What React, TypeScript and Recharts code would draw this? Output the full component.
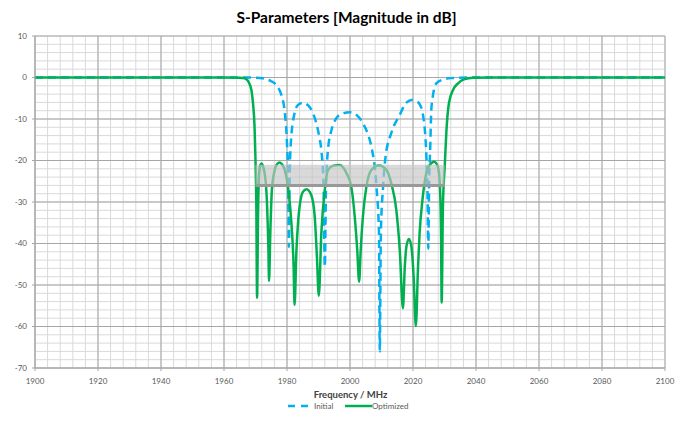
import React from 'react';
import { LineChart, Line, XAxis, YAxis, CartesianGrid, ReferenceArea, ReferenceLine, Legend } from 'recharts';

// ---- Data ----
const optimizedFreq = [
  1900, 1960, 1965, 1966.6, 1967.6, 1968.2, 1968.7, 1969.2, 1969.7, 1970.0, 1970.25, 1970.5,
  1970.8, 1971.1, 1971.5, 1971.9, 1972.4, 1972.9, 1973.6, 1974.1, 1974.3,
  1974.7, 1975.2, 1976.1, 1976.9, 1977.7, 1978.5, 1979.3, 1980.3, 1981.4, 1982.1, 1982.4,
  1983.0, 1983.5, 1984.3, 1985.1, 1986.2, 1987.7, 1988.8, 1989.5, 1990.1,
  1990.9, 1992.0, 1993.0, 1994.5, 1996.7, 1998.9, 2000.4, 2001.5, 2002.3, 2002.9,
  2003.4, 2004.1, 2005.2, 2006.8, 2009.2, 2011.6, 2013.1, 2014.7, 2015.8, 2016.8,
  2017.4, 2017.9, 2018.7, 2019.5, 2020.2, 2020.9,
  2021.6, 2022.1, 2023.0, 2024.0, 2025.3, 2026.7, 2027.9, 2028.5, 2028.9, 2029.1,
  2029.5, 2030.1, 2030.6, 2031.4, 2032.7, 2034.3, 2036.4, 2039, 2045, 2100,
];
const optimizedDb = [
  0, 0, -0.05, -0.2, -0.8, -1.7, -3.0, -6.2, -11.9, -19.9, -30, -53.1,
  -33.5, -23.9, -21.2, -20.7, -21.4, -23.1, -29.5, -41.6, -49,
  -37.5, -27.1, -22.3, -20.8, -20.5, -21.0, -22.3, -26.3, -35.1, -45.6, -54.8,
  -41.6, -35.1, -29.5, -27.5, -26.9, -28.3, -33.5, -43.2, -52.6,
  -37.5, -27.1, -22.3, -21.3, -21.1, -23.1, -26.3, -33.5, -41.6, -49.2,
  -41.6, -33.5, -26.3, -22.3, -21.2, -22.3, -25.5, -31.9, -41.6, -55.6,
  -45.6, -40.8, -38.9, -40.8, -48, -59.9,
  -45.6, -37.5, -29.5, -23.9, -21.1, -20.3, -21.5, -25.5, -37.5, -54.2,
  -31, -21, -13, -6.2, -3.0, -1.4, -0.4, -0.05, 0, 0,
];

const initialFreq = [
  1900, 1965, 1970, 1973, 1975, 1976.1, 1977.1, 1978.2, 1979.3, 1980.0, 1980.35, 1980.6,
  1980.85, 1981.2, 1982.4, 1983.5, 1985.1, 1986.8, 1988.2, 1989.3, 1990.3, 1990.9, 1991.6, 1992.0,
  1992.4, 1993.0, 1994.1, 1995.5, 1997.5, 1999.9, 2002.3, 2004.1, 2005.6, 2006.8, 2008.4, 2009.2, 2009.45,
  2009.8, 2010.5, 2011.3, 2013.1, 2015.8, 2017.5, 2019.5, 2021.0, 2022.1, 2023.4, 2024.3, 2024.6, 2024.85,
  2025.1, 2025.5, 2025.8, 2026.3, 2026.9, 2027.7, 2028.5, 2030, 2032, 2035, 2040, 2100,
];
const initialDb = [
  0, 0, -0.05, -0.3, -0.9, -1.4, -2.3, -4.2, -8.5, -15.9, -24, -40.8,
  -24, -15.9, -8.6, -6.6, -6.1, -6.8, -8.5, -11, -14.5, -17.5, -26, -45.6,
  -26, -17.5, -12.7, -10, -8.7, -8.4, -9.2, -11, -13.5, -16.7, -26.3, -37.5, -66,
  -37.5, -26.3, -19, -13.4, -9.0, -6.4, -5.4, -5.7, -6.4, -10.2, -19.9, -27, -41.2,
  -27, -16, -8, -4.5, -2.2, -1.2, -0.8, -0.4, -0.15, -0.05, 0, 0,
];

const xTicks = [1900, 1920, 1940, 1960, 1980, 2000, 2020, 2040, 2060, 2080, 2100];
const yTicks = [-70, -60, -50, -40, -30, -20, -10, 0, 10];
const minorXTicks = Array.from({ length: 51 }, (_, i) => 1900 + i * 4);
const minorYTicks = Array.from({ length: 41 }, (_, i) => -70 + i * 2);

// spec mask: frequency span and level window
const maskFreq = [1970, 2030];
const maskDb = [-21, -26];

const optimizedData = optimizedFreq.map((f, i) => ({ f, db: optimizedDb[i] }));
const initialData = initialFreq.map((f, i) => ({ f, db: initialDb[i] }));

const FONT = 'Lato, "Open Sans", sans-serif';
const BLUE = '#00B0F0';
const GREEN = '#00B050';

const renderLegend = () => (
  <div style={{ position: 'relative', width: 687, height: 8, fontFamily: FONT, fontSize: 8, color: '#595959' }}>
    <svg style={{ position: 'absolute', left: 288, top: 1 }} width={21} height={6}>
      <line x1={0} y1={3} x2={21} y2={3} stroke={BLUE} strokeWidth={2.5} strokeDasharray="7 6" />
    </svg>
    <span style={{ position: 'absolute', left: 314, top: 0, lineHeight: '8px', whiteSpace: 'nowrap' }}>Initial</span>
    <svg style={{ position: 'absolute', left: 345, top: 1 }} width={27} height={6}>
      <line x1={0} y1={3} x2={27} y2={3} stroke={GREEN} strokeWidth={2.5} />
    </svg>
    <span style={{ position: 'absolute', left: 372, top: 0, lineHeight: '8px', whiteSpace: 'nowrap' }}>Optimized</span>
  </div>
);

export default function App() {
  const tickStyle = { fill: '#595959', fontSize: 8, fontFamily: FONT };
  return (
    <div style={{ position: 'absolute', left: 0, top: 0, width: 687, height: 425, background: '#fff' }}>
      <div
        style={{
          position: 'absolute', left: 0, top: 8, width: 693, textAlign: 'center',
          fontFamily: FONT, fontWeight: 700, fontSize: 15.5, lineHeight: '18px', color: '#000',
        }}
      >
        S-Parameters [Magnitude in dB]
      </div>
      <div
        style={{
          position: 'absolute', left: 0, top: 390.5, width: 701, textAlign: 'center',
          fontFamily: FONT, fontWeight: 700, fontSize: 9.5, lineHeight: '8px', color: '#404040',
        }}
      >
        Frequency / MHz
      </div>
      <LineChart width={687} height={425} margin={{ top: 36, right: 22, bottom: 37, left: 8 }}>
        <CartesianGrid
          stroke="#d9d9d9"
          strokeWidth={1}
          verticalValues={minorXTicks}
          horizontalValues={minorYTicks}
        />
        <CartesianGrid stroke="#a6a6a6" strokeWidth={1} />
        <XAxis
          type="number"
          dataKey="f"
          domain={[1900, 2100]}
          ticks={xTicks}
          interval={0}
          allowDataOverflow
          height={20}
          tick={tickStyle}
          tickSize={3}
          tickMargin={7}
          axisLine={{ stroke: '#a6a6a6' }}
          tickLine={{ stroke: '#a6a6a6' }}
        />
        <YAxis
          type="number"
          domain={[-70, 10]}
          ticks={yTicks}
          interval={0}
          allowDataOverflow
          width={27}
          tick={tickStyle}
          tickSize={3}
          tickMargin={5}
          axisLine={{ stroke: '#a6a6a6' }}
          tickLine={{ stroke: '#a6a6a6' }}
        />
        <Line
          data={initialData}
          dataKey="db"
          name="Initial"
          type="monotone"
          stroke={BLUE}
          strokeWidth={2.5}
          strokeDasharray="8 5"
          dot={false}
          activeDot={false}
          isAnimationActive={false}
        />
        <Line
          data={optimizedData}
          dataKey="db"
          name="Optimized"
          type="monotone"
          stroke={GREEN}
          strokeWidth={2.5}
          dot={false}
          activeDot={false}
          isAnimationActive={false}
        />
        <ReferenceArea
          x1={maskFreq[0]}
          x2={maskFreq[1]}
          y1={maskDb[1]}
          y2={maskDb[0]}
          fill="#c4c4c4"
          fillOpacity={0.65}
          stroke="none"
          zIndex={450}
        />
        <ReferenceLine
          segment={[{ x: maskFreq[0], y: maskDb[1] }, { x: maskFreq[1], y: maskDb[1] }]}
          stroke="#999999"
          strokeWidth={3}
          zIndex={460}
        />
        <Legend
          layout="horizontal"
          verticalAlign="middle"
          align="center"
          content={renderLegend}
          wrapperStyle={{ left: 0, top: 401.5, bottom: 'auto', width: 687, margin: 0 }}
        />
      </LineChart>
    </div>
  );
}
